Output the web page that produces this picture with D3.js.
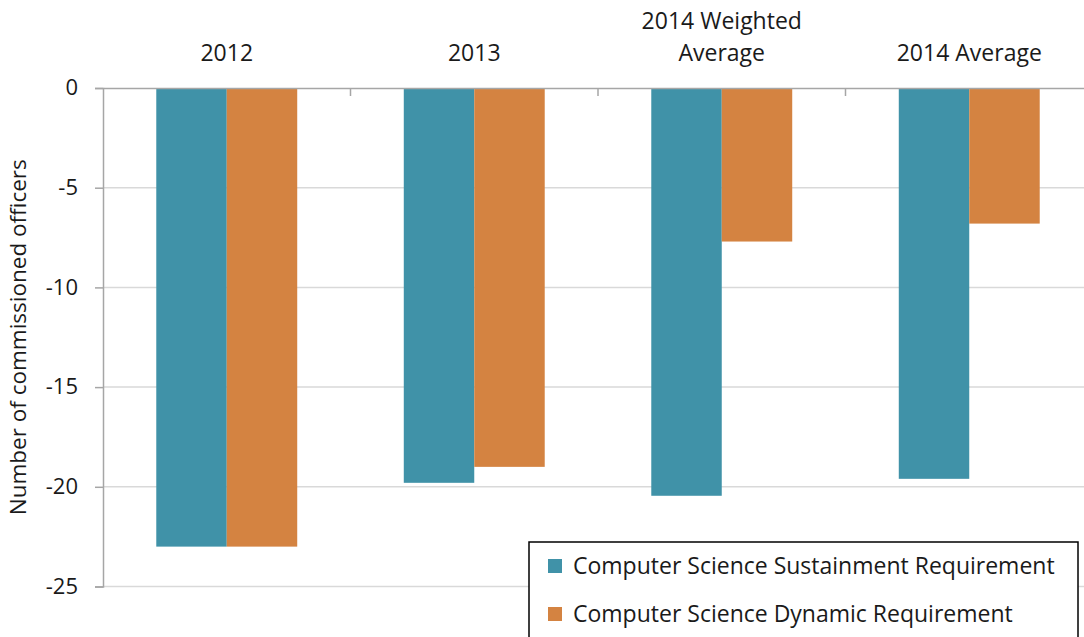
<!DOCTYPE html>
<html>
<head>
<meta charset="utf-8">
<script src="https://cdn.jsdelivr.net/npm/d3@7"></script>
<style>
  body { margin: 0; background: #fff; }
  svg { display: block; font-family: "Open Sans", sans-serif; }
</style>
</head>
<body>
<svg width="1084" height="637"></svg>
<script>
var categories = [["2012"], ["2013"], ["2014 Weighted", "Average"], ["2014 Average"]];
var seriesNames = ["Computer Science Sustainment Requirement", "Computer Science Dynamic Requirement"];
var sustainment = [-23, -19.8, -20.45, -19.6];
var dynamic = [-23, -19, -7.7, -6.8];
var yTicks = [0, -5, -10, -15, -20, -25];
var colors = ["#4092a8", "#d48341"];

(function () {
var svg = d3.select("svg");
var plotLeft = 103, plotRight = 1093, plotTop = 88, plotBottom = 586.5;

var catKeys = categories.map(function (c) { return c.join(" "); });

var x0 = d3.scaleBand().domain(catKeys).range([plotLeft, plotRight]).padding(0);
var x1 = d3.scaleBand().domain([0, 1]).range([0, x0.bandwidth()]).paddingInner(0).paddingOuter(0.756);
var y = d3.scaleLinear().domain([0, -25]).range([plotTop, plotBottom]);

var rows = catKeys.map(function (k, i) {
    return { key: k, values: [sustainment[i], dynamic[i]] };
});

// gridlines
svg.append("g")
    .selectAll("line")
    .data(yTicks.slice(1))
    .enter().append("line")
    .attr("x1", plotLeft).attr("x2", plotRight)
    .attr("y1", function (d) { return y(d); })
    .attr("y2", function (d) { return y(d); })
    .attr("stroke", "#d9d9d9")
    .attr("stroke-width", 1.5);

// bars
svg.append("g")
    .selectAll("g")
    .data(rows)
    .enter().append("g")
    .attr("transform", function (d) { return "translate(" + x0(d.key) + ",0)"; })
    .selectAll("rect")
    .data(function (d) { return d.values.map(function (v, i) { return { v: v, i: i }; }); })
    .enter().append("rect")
    .attr("x", function (d) { return x1(d.i); })
    .attr("width", x1.bandwidth())
    .attr("y", y(0))
    .attr("height", function (d) { return y(d.v) - y(0); })
    .attr("fill", function (d) { return colors[d.i]; });

// y axis
var yAxis = svg.append("g")
    .attr("transform", "translate(" + plotLeft + ",0)")
    .call(d3.axisLeft(y).tickValues(yTicks).tickSize(8).tickPadding(17)
        .tickFormat(function (d) { return String(d); }));
yAxis.select(".domain").attr("stroke", "#a6a6a6").attr("stroke-width", 1.5);
yAxis.selectAll(".tick line").attr("stroke", "#a6a6a6").attr("stroke-width", 1.5);
yAxis.selectAll(".tick text")
    .attr("fill", "#1a1a1a")
    .style("font-size", "22px")
    .style("font-family", "Open Sans, sans-serif")
    .attr("dy", "0.3em");

// top category axis (zero line)
var xAxis = svg.append("g")
    .attr("transform", "translate(0," + y(0) + ")")
    .call(d3.axisBottom(x0).tickSize(0).tickFormat(""));
xAxis.select(".domain").attr("stroke", "#a6a6a6").attr("stroke-width", 1.5);
xAxis.selectAll(".tick").remove();

var bounds = [1, 2, 3].map(function (i) { return x0(catKeys[i]); });
svg.append("g")
    .selectAll("line")
    .data(bounds)
    .enter().append("line")
    .attr("x1", function (d) { return d; }).attr("x2", function (d) { return d; })
    .attr("y1", y(0)).attr("y2", y(0) + 8)
    .attr("stroke", "#a6a6a6")
    .attr("stroke-width", 1.5);

// category labels
var catLabels = svg.append("g")
    .selectAll("text")
    .data(categories)
    .enter().append("text")
    .attr("text-anchor", "middle")
    .attr("fill", "#1a1a1a")
    .style("font-size", "23px")
    .attr("transform", function (d, i) {
        return "translate(" + (x0(catKeys[i]) + x0.bandwidth() / 2) + "," + (61 - (d.length - 1) * 32) + ")";
    });
catLabels.selectAll("tspan")
    .data(function (d) { return d; })
    .enter().append("tspan")
    .attr("x", 0)
    .attr("dy", function (d, i) { return i === 0 ? 0 : 32; })
    .text(function (d) { return d; });

// y label
svg.append("text")
    .attr("transform", "translate(26," + ((plotTop + plotBottom) / 2) + ") rotate(-90)")
    .attr("text-anchor", "middle")
    .attr("fill", "#1a1a1a")
    .style("font-size", "22.5px")
    .text("Number of commissioned officers");

// legend
var legend = svg.append("g").attr("transform", "translate(529,542)");
legend.append("rect")
    .attr("width", 549).attr("height", 110)
    .attr("fill", "#fff")
    .attr("stroke", "#000")
    .attr("stroke-width", 1.5);
var items = legend.selectAll("g.item")
    .data(seriesNames)
    .enter().append("g")
    .attr("class", "item")
    .attr("transform", function (d, i) { return "translate(19," + (17 + i * 48) + ")"; });
items.append("rect")
    .attr("width", 14).attr("height", 14)
    .attr("fill", function (d, i) { return colors[i]; });
items.append("text")
    .attr("x", 25).attr("y", 15)
    .attr("fill", "#1a1a1a")
    .style("font-size", "23px")
    .text(function (d) { return d; });
})();
</script>
</body>
</html>
